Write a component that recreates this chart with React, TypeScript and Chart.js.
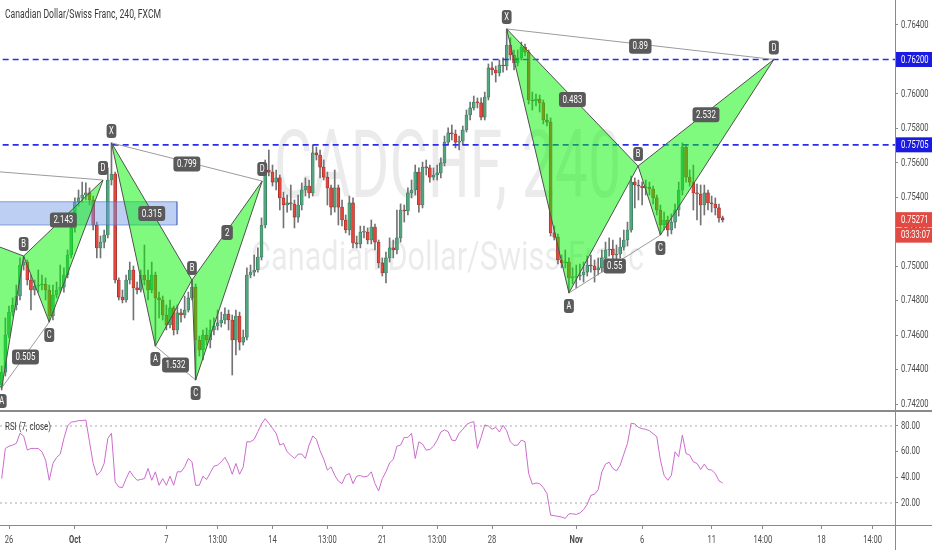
import { useEffect, useRef } from 'react'
import { Chart, registerables } from 'chart.js'

Chart.register(...registerables)

// CADCHF 240-minute candles, oldest first (each open = previous close)
const firstOpen = 0.74312
const closes = [
  0.74387, 0.74602, 0.74735, 0.74776, 0.74828, 0.75008, 0.75025, 0.74921, 0.74863, 0.74886,
  0.74892, 0.74898, 0.74863, 0.74712, 0.74834, 0.74863, 0.7488, 0.7495, 0.75066, 0.75223,
  0.75373, 0.75397, 0.75414, 0.75426, 0.75385, 0.7524, 0.75107, 0.75141, 0.75182, 0.75501,
  0.75536, 0.74921, 0.74822, 0.74805, 0.74921, 0.74979, 0.74875, 0.74863, 0.7495, 0.74921,
  0.74863, 0.7495, 0.74817, 0.74805, 0.74718, 0.7466, 0.74759, 0.74631, 0.7473, 0.74718,
  0.74747, 0.74817, 0.7488, 0.74573, 0.74515, 0.74602, 0.74573, 0.74631, 0.74654, 0.74672,
  0.74689, 0.74724, 0.74689, 0.74573, 0.74712, 0.74561, 0.7459, 0.7495, 0.74967, 0.74979,
  0.75054, 0.7524, 0.75559, 0.75547, 0.75489, 0.75513, 0.75397, 0.75356, 0.75368, 0.75362,
  0.75286, 0.75356, 0.75443, 0.75466, 0.75426, 0.75658, 0.75646, 0.75576, 0.75518, 0.75455,
  0.75344, 0.75455, 0.75344, 0.75269, 0.75211, 0.75368, 0.75136, 0.7513, 0.75199, 0.75199,
  0.75153, 0.75228, 0.75141, 0.7502, 0.74962, 0.75049, 0.75107, 0.75095, 0.75165, 0.75327,
  0.75321, 0.75426, 0.75443, 0.75547, 0.75356, 0.75576, 0.75571, 0.75518, 0.7553, 0.75542,
  0.756, 0.75721, 0.75774, 0.75768, 0.75721, 0.75727, 0.75791, 0.75878, 0.75919, 0.75953,
  0.75948, 0.75866, 0.75982, 0.76151, 0.76139, 0.76122, 0.76168, 0.76162, 0.76284, 0.76226,
  0.7618, 0.76209, 0.76272, 0.76243, 0.75965, 0.75959, 0.75971, 0.75948, 0.75849, 0.75837,
  0.75194, 0.7517, 0.75037, 0.7502, 0.75025, 0.74933, 0.74938, 0.74944, 0.7495, 0.74967,
  0.75008, 0.75002, 0.74979, 0.74991, 0.75049, 0.75095, 0.75101, 0.75066, 0.75072, 0.75112,
  0.75153, 0.75211, 0.75489, 0.75472, 0.75466, 0.75455, 0.7546, 0.75449, 0.75397, 0.75327,
  0.7524, 0.75269, 0.75211, 0.75257, 0.75327, 0.75443, 0.75692, 0.75518, 0.75489, 0.75426,
  0.7542, 0.75356, 0.75426, 0.75368, 0.75362, 0.75339, 0.75281, 0.75271,
]
const highs = [
  0.74422, 0.74701, 0.7477, 0.74817, 0.74892, 0.75049, 0.7506, 0.75037, 0.7495, 0.74921,
  0.74979, 0.7495, 0.74933, 0.74892, 0.74892, 0.74909, 0.75008, 0.74991, 0.75095, 0.75257,
  0.75397, 0.75443, 0.75489, 0.75484, 0.75455, 0.75408, 0.75257, 0.75176, 0.75211, 0.75571,
  0.75716, 0.75547, 0.74933, 0.74863, 0.7495, 0.75025, 0.75002, 0.74909, 0.74979, 0.75124,
  0.74979, 0.75025, 0.74967, 0.74851, 0.74828, 0.74776, 0.74805, 0.7477, 0.74776, 0.74753,
  0.74828, 0.74851, 0.74921, 0.74898, 0.74596, 0.74631, 0.74643, 0.74689, 0.74701, 0.74747,
  0.74735, 0.74759, 0.74747, 0.74718, 0.74747, 0.74735, 0.74631, 0.74991, 0.75008, 0.75066,
  0.75107, 0.75281, 0.75617, 0.75675, 0.75588, 0.75559, 0.7553, 0.75431, 0.75414, 0.75472,
  0.75385, 0.75414, 0.75484, 0.75513, 0.75501, 0.75704, 0.75692, 0.75675, 0.75617, 0.75547,
  0.75472, 0.75559, 0.75472, 0.75385, 0.75298, 0.75408, 0.75397, 0.75176, 0.75234, 0.75234,
  0.75223, 0.75269, 0.75246, 0.75153, 0.75049, 0.75083, 0.75165, 0.75153, 0.75327, 0.75362,
  0.75356, 0.75455, 0.75501, 0.75588, 0.75571, 0.75605, 0.75617, 0.75588, 0.75571, 0.75588,
  0.75629, 0.75756, 0.75803, 0.7582, 0.75791, 0.75756, 0.75814, 0.75907, 0.75953, 0.75988,
  0.75977, 0.75977, 0.76011, 0.76174, 0.76185, 0.76162, 0.76197, 0.76209, 0.76377, 0.76325,
  0.76255, 0.76255, 0.76301, 0.7629, 0.76255, 0.76011, 0.76, 0.75994, 0.75965, 0.75884,
  0.75861, 0.75234, 0.75188, 0.75066, 0.75095, 0.75049, 0.74991, 0.75008, 0.75014, 0.75025,
  0.7506, 0.75066, 0.75037, 0.75049, 0.75095, 0.75141, 0.75165, 0.75153, 0.75124, 0.75165,
  0.75211, 0.75257, 0.75524, 0.75513, 0.75501, 0.75489, 0.75501, 0.75489, 0.75466, 0.75414,
  0.75356, 0.75315, 0.75292, 0.75304, 0.75362, 0.75489, 0.75716, 0.757, 0.75559, 0.75588,
  0.75478, 0.75472, 0.75472, 0.75443, 0.75408, 0.75397, 0.75362, 0.75292,
]
const lows = [
  0.74283, 0.74364, 0.74585, 0.74712, 0.74747, 0.74805, 0.74979, 0.74892, 0.74747, 0.74834,
  0.74851, 0.74863, 0.74805, 0.74677, 0.74689, 0.74817, 0.74846, 0.74851, 0.74933, 0.75049,
  0.75199, 0.7535, 0.75373, 0.75385, 0.75356, 0.75211, 0.75049, 0.75049, 0.75107, 0.75165,
  0.75472, 0.74904, 0.74805, 0.74788, 0.74793, 0.74898, 0.74689, 0.7484, 0.74851, 0.74892,
  0.74805, 0.74846, 0.74538, 0.74701, 0.74689, 0.74631, 0.74643, 0.74602, 0.74608, 0.74677,
  0.74701, 0.74735, 0.74805, 0.74341, 0.7448, 0.74457, 0.74544, 0.74527, 0.74602, 0.74631,
  0.74648, 0.74666, 0.74631, 0.7437, 0.74486, 0.74515, 0.74544, 0.74573, 0.74933, 0.74944,
  0.74967, 0.75037, 0.75223, 0.75524, 0.75466, 0.75443, 0.75327, 0.75223, 0.75315, 0.75327,
  0.75223, 0.75257, 0.75327, 0.75408, 0.75397, 0.75408, 0.75617, 0.75513, 0.75501, 0.75356,
  0.75298, 0.75315, 0.7524, 0.75234, 0.75194, 0.75182, 0.75107, 0.75107, 0.75107, 0.75165,
  0.7513, 0.7513, 0.75095, 0.74991, 0.74944, 0.74904, 0.75025, 0.75049, 0.75072, 0.75141,
  0.75257, 0.75298, 0.75397, 0.75414, 0.75315, 0.75339, 0.7553, 0.75489, 0.75501, 0.75501,
  0.75513, 0.75582, 0.75704, 0.75733, 0.75687, 0.75675, 0.75704, 0.75779, 0.75849, 0.75907,
  0.75919, 0.75849, 0.75849, 0.75965, 0.7611, 0.76069, 0.76104, 0.76127, 0.76139, 0.76197,
  0.76139, 0.76162, 0.76197, 0.7622, 0.75942, 0.75907, 0.7593, 0.75895, 0.75826, 0.75814,
  0.75176, 0.75153, 0.75014, 0.74991, 0.74991, 0.74846, 0.74898, 0.74875, 0.74921, 0.74909,
  0.74944, 0.74967, 0.74909, 0.7495, 0.74967, 0.75025, 0.7506, 0.75025, 0.75025, 0.75049,
  0.75095, 0.75118, 0.75199, 0.75339, 0.75385, 0.75356, 0.75414, 0.75414, 0.75362, 0.75298,
  0.75182, 0.75211, 0.75176, 0.75188, 0.75223, 0.75292, 0.75414, 0.75489, 0.75466, 0.75327,
  0.75269, 0.7524, 0.75298, 0.75327, 0.75315, 0.75298, 0.75257, 0.75257,
]

// RSI (7, close), one reading per candle
const rsiValues = [
  39.0, 62.5, 64.3, 65.1, 66.4, 74.3, 72.2, 61.2, 62.5, 62.5,
  62.5, 59.9, 53.4, 37.7, 50.8, 55.5, 58.1, 70.3, 80.0, 83.1,
  83.4, 84.2, 84.2, 84.7, 67.7, 50.8, 41.6, 44.3, 50.8, 70.3,
  74.3, 36.4, 32.5, 32.0, 39.0, 45.0, 40.9, 37.7, 38.3, 39.0,
  46.9, 37.7, 44.3, 33.8, 39.0, 33.8, 40.9, 33.8, 44.3, 44.3,
  48.2, 54.7, 52.1, 33.8, 33.8, 40.9, 38.3, 43.5, 48.7, 49.5,
  52.1, 55.5, 50.3, 42.4, 50.8, 42.4, 48.2, 67.7, 67.7, 69.6,
  75.6, 81.6, 85.7, 82.1, 78.2, 74.3, 65.1, 66.4, 59.9, 57.3,
  54.7, 58.1, 58.1, 54.7, 65.1, 72.2, 69.6, 60.7, 54.2, 45.6,
  48.2, 41.6, 37.0, 35.1, 41.6, 43.0, 35.1, 40.9, 41.4, 40.3,
  40.9, 44.3, 35.1, 29.4, 39.0, 44.3, 51.3, 53.9, 64.3, 65.1,
  71.1, 71.1, 74.3, 54.7, 67.7, 65.9, 61.2, 61.7, 64.3, 69.0,
  75.3, 76.9, 75.6, 69.0, 68.5, 74.3, 77.4, 81.0, 82.6, 83.4,
  62.5, 71.1, 80.8, 80.0, 77.4, 79.0, 75.3, 80.5, 76.3, 67.7,
  64.9, 65.1, 69.0, 67.7, 43.0, 34.6, 35.6, 35.1, 32.0, 27.3,
  10.5, 10.1, 9.6, 9.0, 8.0, 11.6, 11.6, 11.1, 12.2, 14.8,
  19.0, 26.0, 26.8, 30.4, 44.3, 50.3, 51.8, 46.9, 45.0, 49.5,
  58.1, 66.4, 82.1, 81.6, 79.0, 77.9, 77.4, 76.3, 74.0, 71.7,
  53.4, 41.6, 37.7, 41.6, 59.9, 56.0, 73.0, 58.6, 57.3, 52.1,
  50.8, 46.1, 50.3, 46.1, 45.6, 43.0, 37.2, 35.6,
]

const priceTicks = [0.742, 0.744, 0.746, 0.748, 0.75, 0.752, 0.754, 0.756, 0.758, 0.76, 0.762, 0.764]
const rsiTicks = [20, 40, 60, 80]
const rsiLevels = [80, 20]
const timeTickPos = [2, 20, 45, 59, 74, 89, 104, 119, 134, 157, 175, 194, 208, 224, 238]
const timeTickText = ['26', 'Oct', '7', '13:00', '14', '13:00', '21', '13:00', '28', 'Nov', '6', '11', '14:00', '18', '14:00']
const monthTicks = ['Oct', 'Nov']

const levelLines = [0.762, 0.75705]
const lastPrice = 0.75271
const countdown = '03:33:07'

// rectangle zone on the left
const zoneX = [-10, 47.9]
const zoneY = [0.75375, 0.7524]

// XABCD harmonic patterns (candle position, price); ratios on XB, AC, BD, XD
const patternLetters = ['X', 'A', 'B', 'C', 'D']
const patternXs = [
  [-69.3, 0, 6, 13, 27.7],
  [30, 42, 52, 53, 71.2],
  [138, 155, 173.9, 180, 211],
]
const patternYs = [
  [0.75663, 0.74295, 0.7506, 0.74677, 0.75501],
  [0.75716, 0.74538, 0.74921, 0.74341, 0.75495],
  [0.76377, 0.74846, 0.75582, 0.75182, 0.762],
]
const patternRatios = [
  [null, '0.505', '2.143', null],
  ['0.315', '1.532', '2', '0.799'],
  ['0.483', '0.55', '2.532', '0.89'],
]
const ratioPairs = [[0, 2], [1, 3], [2, 4], [0, 4]]

const xMin = -0.46
const xMax = 244.1
const priceMin = 0.74167
const priceMax = 0.76545
const rsiMin = 2.85
const rsiMax = 90.9

const FONT = 'Roboto, "Noto Sans", sans-serif'
const SQUISH = 0.72
const UP = '#53a57f'
const DOWN = '#e0483e'
const TEXT = '#4a4a4a'
const LINE = '#8a8a8a'

function drawText(
  ctx: CanvasRenderingContext2D, text: string, x: number, y: number,
  align: 'left' | 'center' | 'right', size: number, color: string, weight = 'normal',
) {
  ctx.save()
  ctx.font = `${weight} ${size}px ${FONT}`
  const w = ctx.measureText(text).width * SQUISH
  const left = align === 'left' ? x : align === 'center' ? x - w / 2 : x - w
  ctx.translate(left, y)
  ctx.scale(SQUISH, 1)
  ctx.fillStyle = color
  ctx.textAlign = 'left'
  ctx.textBaseline = 'middle'
  ctx.fillText(text, 0, 0)
  ctx.restore()
  return w
}

function fitText(ctx: CanvasRenderingContext2D, text: string, cx: number, base: number, size: number, width: number) {
  ctx.save()
  ctx.font = `${size}px ${FONT}`
  const sx = width / ctx.measureText(text).width
  ctx.translate(cx - width / 2, base)
  ctx.scale(sx, 1)
  ctx.fillStyle = 'rgba(0,0,0,0.08)'
  ctx.textBaseline = 'alphabetic'
  ctx.fillText(text, 0, 0)
  ctx.restore()
}

function badge(ctx: CanvasRenderingContext2D, text: string, cx: number, cy: number, size: number, padX: number, h: number) {
  ctx.save()
  ctx.font = `${size}px ${FONT}`
  const w = ctx.measureText(text).width * SQUISH + padX * 2
  ctx.fillStyle = '#5a5a5a'
  ctx.beginPath()
  ctx.roundRect(cx - w / 2, cy - h / 2, w, h, 3)
  ctx.fill()
  ctx.restore()
  drawText(ctx, text, cx, cy + 0.5, 'center', size, '#ffffff')
}

function tag(ctx: CanvasRenderingContext2D, x: number, y: number, bg: string, text: string) {
  ctx.save()
  ctx.fillStyle = bg
  ctx.fillRect(x, y - 7.5, 37, 15)
  ctx.restore()
  drawText(ctx, text, x + 5, y + 0.5, 'left', 10.5, '#ffffff')
}

const opens = closes.map((_, i) => (i === 0 ? firstOpen : closes[i - 1]))

export default function App() {
  const mainRef = useRef<HTMLCanvasElement>(null)
  const rsiRef = useRef<HTMLCanvasElement>(null)

  useEffect(() => {
    document.body.style.margin = '0'
    if (!mainRef.current || !rsiRef.current) return

    const datasets: any[] = [
      {
        type: 'bar',
        data: closes.map((_, i) => ({ x: i, y: [lows[i], highs[i]] })),
        backgroundColor: '#737375',
        barThickness: 1,
        grouped: false,
        order: 20,
      },
      {
        type: 'bar',
        data: closes.map((c, i) => ({ x: i, y: [opens[i], c] })),
        backgroundColor: closes.map((c, i) => (c >= opens[i] ? UP : DOWN)),
        borderColor: closes.map((c, i) => (c >= opens[i] ? '#2f7352' : '#8c241d')),
        borderWidth: 0.6,
        borderSkipped: false,
        barThickness: 3,
        minBarLength: 1,
        grouped: false,
        order: 19,
      },
      {
        type: 'line',
        data: [
          { x: zoneX[0], y: zoneY[0] }, { x: zoneX[1], y: zoneY[0] },
          { x: zoneX[1], y: zoneY[1] }, { x: zoneX[0], y: zoneY[1] }, { x: zoneX[0], y: zoneY[0] },
        ],
        fill: 'shape',
        backgroundColor: 'rgba(108,150,230,0.45)',
        borderColor: 'rgba(80,110,200,0.6)',
        borderWidth: 1,
        pointRadius: 0,
        order: 15,
      },
      ...levelLines.map(v => ({
        type: 'line',
        data: [{ x: xMin - 2, y: v }, { x: xMax + 2, y: v }],
        borderColor: '#2b2bf0',
        borderWidth: 1.6,
        borderDash: [6, 4],
        pointRadius: 0,
        fill: false,
        order: 12,
      })),
    ]

    patternXs.forEach((xs, p) => {
      const ys = patternYs[p]
      const pt = (k: number) => ({ x: xs[k], y: ys[k] })
      const tri = (a: number, b: number, c: number) => ({
        type: 'line',
        data: [pt(a), pt(b), pt(c), pt(a)],
        fill: 'shape',
        backgroundColor: 'rgba(0,245,0,0.5)',
        borderColor: '#505050',
        borderWidth: 1,
        pointRadius: 0,
        order: 1,
      })
      const link = (a: number, b: number) => ({
        type: 'line',
        data: [pt(a), pt(b)],
        borderColor: '#9b9b9b',
        borderWidth: 1,
        pointRadius: 0,
        fill: false,
        order: 2,
      })
      datasets.push(tri(0, 1, 2), tri(2, 3, 4), link(1, 3), link(0, 4))
    })

    const mainDecor = {
      id: 'mainDecor',
      beforeDatasetsDraw(chart: any) {
        const { ctx, chartArea } = chart
        const cx = (chartArea.left + chartArea.right) / 2
        fitText(ctx, 'CADCHF, 240', cx, 197, 94, 347)
        fitText(ctx, 'Canadian Dollar/Swiss Franc', cx, 270, 40, 393)
      },
      afterDatasetsDraw(chart: any) {
        const { ctx, chartArea, scales } = chart
        ctx.save()
        ctx.beginPath()
        ctx.rect(chartArea.left, chartArea.top, chartArea.right - chartArea.left, chartArea.bottom - chartArea.top)
        ctx.clip()
        patternXs.forEach((xs, p) => {
          const px = xs.map(v => scales.x.getPixelForValue(v))
          const py = patternYs[p].map(v => scales.y.getPixelForValue(v))
          ratioPairs.forEach(([a, b], k) => {
            const r = patternRatios[p][k]
            if (!r) return
            const mx = (px[a] + px[b]) / 2
            const my = (py[a] + py[b]) / 2 + 2
            if (mx < chartArea.left || mx > chartArea.right) return
            badge(ctx, r, mx, my, 11, 3.5, 15)
          })
          patternLetters.forEach((letter, k) => {
            if (px[k] < chartArea.left - 6) return
            const above = k % 2 === 0
            badge(ctx, letter, px[k], py[k] + (above ? -12 : 13), 10.5, 2.5, 14)
          })
        })
        ctx.restore()
      },
      afterDraw(chart: any) {
        const { ctx, scales } = chart
        const ys = scales.y
        priceTicks.forEach(v => drawText(ctx, v.toFixed(5), ys.left + 6, ys.getPixelForValue(v), 'left', 10.5, TEXT))
        levelLines.forEach(v => tag(ctx, ys.left + 1, ys.getPixelForValue(v), '#1a1ae0', v.toFixed(5)))
        const ly = ys.getPixelForValue(lastPrice)
        tag(ctx, ys.left + 1, ly, '#e04a42', lastPrice.toFixed(5))
        tag(ctx, ys.left + 1, ly + 15.5, '#e04a42', countdown)
        drawText(ctx, 'Canadian Dollar/Swiss Franc, 240, FXCM', 5, 15, 'left', 12, '#3a3a3a')
      },
    }

    const main = new Chart(mainRef.current, {
      type: 'bar',
      data: { datasets },
      options: {
        responsive: false,
        animation: false,
        events: [],
        layout: { padding: 0 },
        plugins: { legend: { display: false }, tooltip: { enabled: false } },
        scales: {
          x: { type: 'linear', display: false, min: xMin, max: xMax, offset: false },
          y: {
            position: 'right',
            min: priceMin,
            max: priceMax,
            afterBuildTicks: (s: any) => { s.ticks = priceTicks.map(v => ({ value: v })) },
            afterFit: (s: any) => { s.width = 37; s.paddingTop = 0; s.paddingBottom = 0 },
            ticks: { display: false },
            grid: { drawOnChartArea: false, drawTicks: true, tickLength: 3, color: LINE },
            border: { display: true, color: LINE },
          },
        },
      },
      plugins: [mainDecor],
    } as any)

    const rsiDecor = {
      id: 'rsiDecor',
      afterDraw(chart: any) {
        const { ctx, chartArea, width, height, scales } = chart
        ctx.save()
        ctx.strokeStyle = LINE
        ctx.lineWidth = 2
        ctx.beginPath()
        ctx.moveTo(0, chartArea.top - 1)
        ctx.lineTo(width, chartArea.top - 1)
        ctx.stroke()
        ctx.lineWidth = 1
        ctx.beginPath()
        ctx.moveTo(0, chartArea.bottom + 0.5)
        ctx.lineTo(width, chartArea.bottom + 0.5)
        ctx.moveTo(chartArea.right + 0.5, chartArea.bottom)
        ctx.lineTo(chartArea.right + 0.5, height)
        ctx.stroke()
        ctx.restore()
        rsiTicks.forEach(v => drawText(ctx, v.toFixed(2), scales.y.left + 6, scales.y.getPixelForValue(v), 'left', 10.5, TEXT))
        timeTickPos.forEach((pos, k) => {
          const t = timeTickText[k]
          drawText(ctx, t, scales.x.getPixelForValue(pos), chartArea.bottom + 15, 'center', 10.5, TEXT,
            monthTicks.includes(t) ? 'bold' : 'normal')
        })
        drawText(ctx, 'RSI (7, close)', 5, chartArea.top + 15, 'left', 11, '#3a3a3a')
      },
    }

    const rsi = new Chart(rsiRef.current, {
      type: 'line',
      data: {
        datasets: [
          {
            data: rsiValues.map((v, i) => ({ x: i, y: v })),
            borderColor: '#cc6ccc',
            borderWidth: 1,
            pointRadius: 0,
            tension: 0,
          },
          ...rsiLevels.map(v => ({
            data: [{ x: xMin, y: v }, { x: xMax, y: v }],
            borderColor: '#a8a8a8',
            borderWidth: 1,
            borderDash: [2, 3],
            pointRadius: 0,
          })),
        ],
      },
      options: {
        responsive: false,
        animation: false,
        events: [],
        layout: { padding: { top: 2 } },
        plugins: { legend: { display: false }, tooltip: { enabled: false } },
        scales: {
          x: {
            type: 'linear',
            min: xMin,
            max: xMax,
            afterBuildTicks: (s: any) => { s.ticks = timeTickPos.map(v => ({ value: v })) },
            afterFit: (s: any) => { s.height = 25; s.paddingLeft = 0; s.paddingRight = 0 },
            ticks: { display: false },
            grid: { drawOnChartArea: false, drawTicks: true, tickLength: 4, color: LINE },
            border: { display: true, color: LINE },
          },
          y: {
            position: 'right',
            min: rsiMin,
            max: rsiMax,
            afterBuildTicks: (s: any) => { s.ticks = rsiTicks.map(v => ({ value: v })) },
            afterFit: (s: any) => { s.width = 37; s.paddingTop = 0; s.paddingBottom = 0 },
            ticks: { display: false },
            grid: { drawOnChartArea: false, drawTicks: true, tickLength: 3, color: LINE },
            border: { display: true, color: LINE },
          },
        },
      },
      plugins: [rsiDecor],
    } as any)

    return () => {
      main.destroy()
      rsi.destroy()
    }
  }, [])

  return (
    <div style={{ position: 'relative', width: 932, height: 550, background: '#ffffff', overflow: 'hidden' }}>
      <canvas ref={mainRef} width={932} height={410} style={{ position: 'absolute', left: 0, top: 0 }} />
      <canvas ref={rsiRef} width={932} height={140} style={{ position: 'absolute', left: 0, top: 410 }} />
    </div>
  )
}
